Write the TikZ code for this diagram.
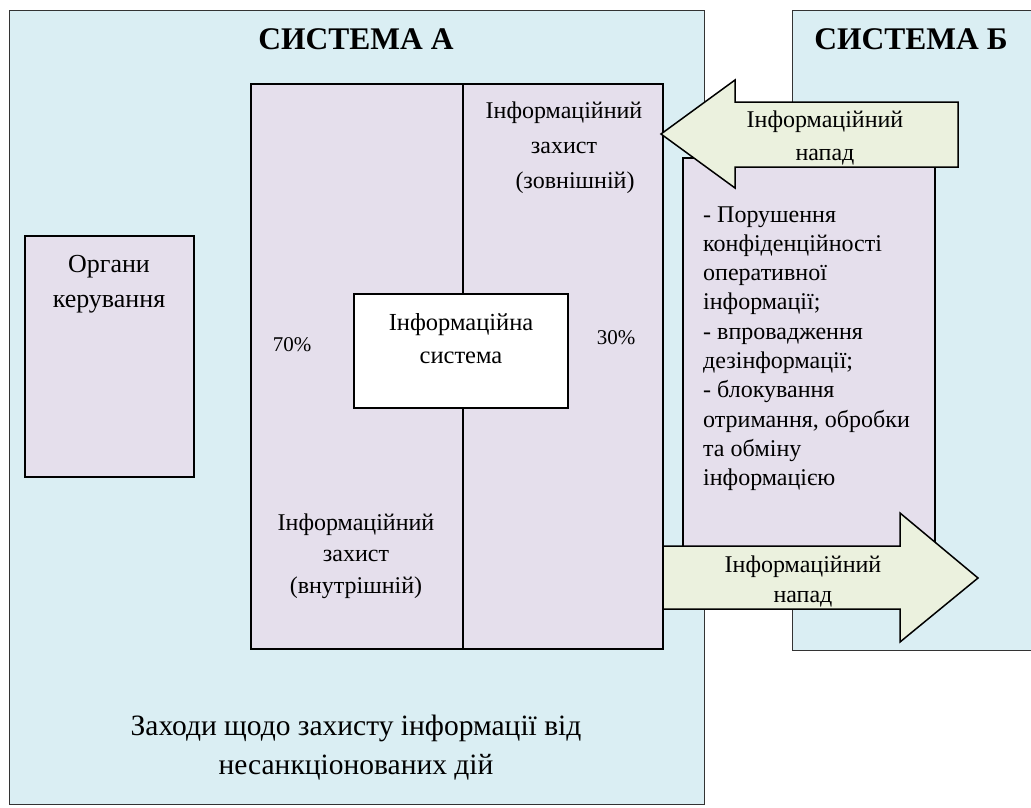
\documentclass[tikz,border=0pt]{standalone}
\usepackage{fontspec}
\setmainfont{Liberation Serif}
\definecolor{sysblue}{HTML}{DAEEF3}
\definecolor{boxpurple}{HTML}{E5DFEC}
\definecolor{arrowgreen}{HTML}{EBF1DE}
\newcommand{\clines}[1]{\begin{tabular}[t]{@{}c@{}}#1\end{tabular}}
\newcommand{\llines}[1]{\begin{tabular}[t]{@{}l@{}}#1\end{tabular}}
\begin{document}
\begin{tikzpicture}[x=1pt,y=-1pt,
  sysbox/.style={fill=sysblue,draw=black!80,line width=1pt},
  pbox/.style={fill=boxpurple,draw=black,line width=1.5pt},
  wbox/.style={fill=white,draw=black,line width=1.5pt},
  arr/.style={fill=arrowgreen,draw=black,line width=1.5pt,line join=miter},
  txt/.style={inner sep=0pt,anchor=base},
  title/.style={txt,font=\fontsize{31.5}{36}\selectfont\bfseries}]
\useasboundingbox (0,0) rectangle (1031,807);
\clip (0,0) rectangle (1031,807);
% systems
\draw[sysbox] (9,10) rectangle (704,804);
\draw[sysbox] (792,10) rectangle (1045,650);
\node[title] (tA) at (356,49) {СИСТЕМА А};
\node[title] (tB) at (911,49) {СИСТЕМА Б};
% control organs
\draw[pbox] (25,236) rectangle (194,477);
\node[txt,font=\fontsize{26}{35}\selectfont] (org) at (109,272) {\clines{Органи\\керування}};
% central block
\draw[pbox] (251,84) rectangle (663,649);
\draw[black,line width=1.5pt] (463,84) -- (463,649);
\draw[wbox] (354,294) rectangle (568,408);
\node[txt,font=\fontsize{24.5}{33}\selectfont] (is) at (461,330) {\clines{Інформаційна\\система}};
\node[txt,font=\fontsize{24}{35}\selectfont] (ext) at (564,118) {\clines{Інформаційний\\захист\\\hspace*{22pt}(зовнішній)}};
\node[txt,font=\fontsize{24}{31.5}\selectfont] (int) at (356,530) {\clines{Інформаційний\\захист\\(внутрішній)}};
\node[txt,font=\fontsize{21}{25}\selectfont] (p70) at (292,351) {70\%};
\node[txt,font=\fontsize{21}{25}\selectfont] (p30) at (616,344) {30\%};
% list box
\draw[pbox] (683,158) rectangle (935,560);
\node[txt,anchor=base west,font=\fontsize{24}{29.3}\selectfont] (list) at (703,222) {\llines{- Порушення\\конфіденційності\\оперативної\\інформації;\\- впровадження\\дезінформації;\\- блокування\\отримання, обробки\\та обміну\\інформацією}};
% top arrow (attack on A)
\draw[arr] (661,134) -- (735,80) -- (735,102) -- (958,102) -- (958,167) -- (735,167) -- (735,188) -- cycle;
\node[txt,font=\fontsize{24}{33}\selectfont] (atk1) at (825,127) {\clines{Інформаційний\\напад}};
% bottom arrow (attack on B)
\draw[arr] (663,546) -- (900,546) -- (900,513) -- (978,578) -- (900,642) -- (900,609) -- (663,609) -- cycle;
\node[txt,font=\fontsize{24}{30}\selectfont] (atk2) at (803,572) {\clines{Інформаційний\\напад}};
% measures
\node[txt,font=\fontsize{29.5}{39}\selectfont] (meas) at (356,735) {\clines{Заходи щодо захисту інформації від\\несанкціонованих дій}};
\end{tikzpicture}
\end{document}
